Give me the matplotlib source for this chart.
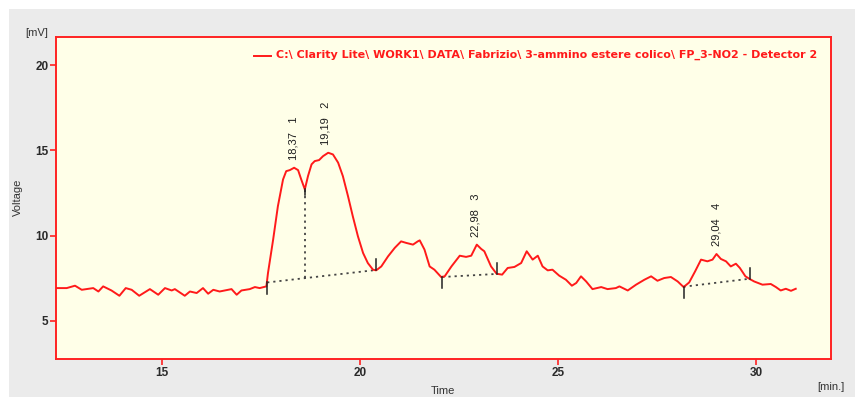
import matplotlib
matplotlib.use("Agg")
import matplotlib.pyplot as plt
from matplotlib.patches import Rectangle
import numpy as np

# ---- data ----
time_min = [12.35, 12.60, 12.81, 12.98, 13.27, 13.40, 13.52, 13.73, 13.93, 14.09,
            14.24, 14.43, 14.70, 14.91, 15.08, 15.25, 15.33, 15.58, 15.71, 15.88,
            16.04, 16.17, 16.30, 16.46, 16.76, 16.89, 17.01, 17.22, 17.35, 17.47,
            17.64, 17.68, 17.81, 17.93, 18.06, 18.14, 18.23, 18.34, 18.44, 18.52,
            18.61, 18.69, 18.78, 18.86, 18.97, 19.07, 19.20, 19.32, 19.45, 19.57,
            19.70, 19.82, 19.95, 20.08, 20.20, 20.33, 20.41, 20.54, 20.71, 20.88,
            21.04, 21.17, 21.34, 21.46, 21.51, 21.63, 21.76, 21.88, 22.05, 22.14,
            22.31, 22.52, 22.68, 22.81, 22.95, 23.06, 23.14, 23.31, 23.45, 23.59,
            23.73, 23.90, 24.07, 24.21, 24.36, 24.49, 24.61, 24.74, 24.86, 25.03,
            25.20, 25.35, 25.46, 25.58, 25.71, 25.87, 26.09, 26.25, 26.46, 26.55,
            26.76, 26.97, 27.18, 27.35, 27.51, 27.68, 27.85, 28.02, 28.17, 28.31,
            28.46, 28.61, 28.77, 28.90, 29.00, 29.11, 29.24, 29.36, 29.49, 29.59,
            29.73, 29.84, 29.95, 30.16, 30.37, 30.50, 30.62, 30.75, 30.88, 31.00]
voltage_mv = [6.92, 6.92, 7.06, 6.82, 6.92, 6.72, 7.02, 6.78, 6.47, 6.92,
              6.82, 6.47, 6.86, 6.53, 6.92, 6.78, 6.86, 6.47, 6.72, 6.63,
              6.92, 6.59, 6.82, 6.72, 6.86, 6.53, 6.78, 6.86, 6.98, 6.92,
              7.02, 7.80, 9.76, 11.72, 13.29, 13.78, 13.84, 13.98, 13.84, 13.29,
              12.71, 13.49, 14.18, 14.37, 14.43, 14.66, 14.86, 14.76, 14.28, 13.49,
              12.31, 11.14, 9.96, 8.98, 8.39, 8.00, 7.96, 8.19, 8.78, 9.28,
              9.66, 9.57, 9.47, 9.66, 9.72, 9.18, 8.19, 8.00, 7.57, 7.61,
              8.19, 8.82, 8.75, 8.82, 9.47, 9.22, 9.08, 8.19, 7.76, 7.71,
              8.10, 8.16, 8.39, 9.08, 8.59, 8.82, 8.19, 7.96, 8.00, 7.65,
              7.41, 7.06, 7.22, 7.61, 7.31, 6.86, 6.98, 6.86, 6.92, 7.02,
              6.78, 7.12, 7.41, 7.61, 7.35, 7.51, 7.57, 7.31, 6.98, 7.25,
              7.90, 8.59, 8.49, 8.59, 8.92, 8.63, 8.49, 8.19, 8.35, 8.10,
              7.61, 7.45, 7.31, 7.12, 7.16, 6.98, 6.78, 6.88, 6.76, 6.88]

peak_numbers = [1, 2, 3, 4]
peak_rt = [18.37, 19.19, 22.98, 29.04]
peak_labels = ["18,37", "19,19", "22,98", "29,04"]
peak_tops = [13.98, 14.86, 9.47, 8.92]

# integration baselines: (t_start, v_start, t_end, v_end)
bl_t_start = [17.66, 22.08, 28.17]
bl_v_start = [7.25, 7.57, 7.00]
bl_t_end = [20.40, 23.45, 29.84]
bl_v_end = [7.98, 7.75, 7.47]
drop_t = [18.61]

legend_text = "C:\\ Clarity Lite\\ WORK1\\ DATA\\ Fabrizio\\ 3-ammino estere colico\\ FP_3-NO2 - Detector 2"
x_ticks = [15, 20, 25, 30]
y_ticks = [5, 10, 15, 20]

# ---- figure ----
W, H = 855, 397
fig = plt.figure(figsize=(W / 100, H / 100), dpi=100)
fig.patch.set_facecolor("white")
fig.add_artist(Rectangle((9 / W, 0), 1 - 9 / W, (H - 9) / H, transform=fig.transFigure,
                         facecolor="#EBEBEB", edgecolor="none", zorder=-10))

red = "#FF2222"
ax = fig.add_axes([56 / W, (H - 359) / H, (831 - 56) / W, (359 - 37) / H])
ax.set_facecolor("#FFFFE8")
for s in ax.spines.values():
    s.set_color(red)
    s.set_linewidth(1.4)

ax.plot(time_min, voltage_mv, color="#FF1A1A", lw=1.4, zorder=3)
ax.set_xlim(12.33, 31.89)
ax.set_ylim(2.76, 21.65)
ax.set_xticks(x_ticks)
ax.set_yticks(y_ticks)
ax.tick_params(axis="both", colors=red, length=4, width=1.2, direction="out",
               labelcolor="#2A2A2A", labelsize=8.5, pad=1.5)
for lbl in ax.get_xticklabels() + ax.get_yticklabels():
    lbl.set_fontfamily("Liberation Sans")
    lbl.set_fontweight("bold")

dot_style = dict(color="#444444", lw=1.3, linestyle=(0, (1.2, 2.2)), zorder=2)
tick_len = 0.65
for ts, vs, te, ve in zip(bl_t_start, bl_v_start, bl_t_end, bl_v_end):
    ax.plot([ts, te], [vs, ve], **dot_style)
    ax.plot([ts, ts], [vs - tick_len, vs], color="#222222", lw=1.1, zorder=4)
    ax.plot([te, te], [ve, ve + tick_len], color="#222222", lw=1.1, zorder=4)

for td in drop_t:
    vb = np.interp(td, [bl_t_start[0], bl_t_end[0]], [bl_v_start[0], bl_v_end[0]])
    vc = np.interp(td, time_min, voltage_mv)
    ax.plot([td, td], [vb, vc], **dot_style)
    ax.plot([td, td], [vc - 0.35, vc], color="#222222", lw=1.1, zorder=4)

for rt, lab, n, top in zip(peak_rt, peak_labels, peak_numbers, peak_tops):
    ax.text(rt - 0.05, top + 0.45, f"{lab}   {n}", rotation=90, ha="center", va="bottom",
            fontsize=8, family="Liberation Sans", color="#1E1E1E")

# legend-like header
fig.add_artist(plt.Line2D([254 / W, 271 / W], [1 - 56 / H, 1 - 56 / H], color="#FF1A1A", lw=1.4))
fig.text(276 / W, 1 - 54.5 / H, legend_text, color="#FF1A1A", fontsize=8.0,
         fontweight="bold", family="DejaVu Sans", ha="left", va="center")

# axis titles
fig.text(37 / W, 1 - 33 / H, "[mV]", fontsize=8, family="Liberation Sans", color="#333333",
         ha="center", va="center")
fig.text(18 / W, 1 - 197 / H, "Voltage", fontsize=8, family="Liberation Sans", color="#333333",
         ha="center", va="center", rotation=90)
fig.text(443 / W, 1 - 391 / H, "Time", fontsize=8, family="Liberation Sans", color="#333333",
         ha="center", va="center")
fig.text(831 / W, 1 - 387 / H, "[min.]", fontsize=8, family="Liberation Sans", color="#333333",
         ha="center", va="center")

fig.savefig("out.png", dpi=100)
